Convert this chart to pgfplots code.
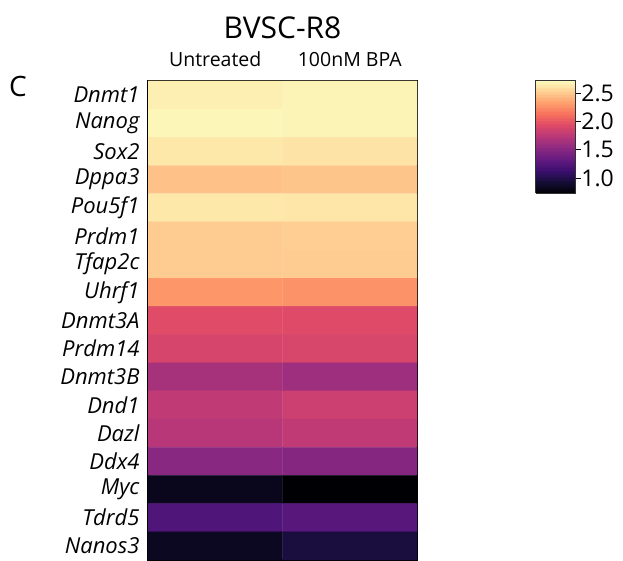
\documentclass[border=0pt]{standalone}
\usepackage{fontspec}
\setmainfont{Open Sans}
\usepackage{pgfplots}
\usepackage{pgfplotstable}
\pgfplotsset{compat=1.18}
\pgfplotsset{colormap={magma}{rgb255=(0,0,4) rgb255=(20,14,54) rgb255=(59,15,112) rgb255=(100,26,128) rgb255=(140,41,129) rgb255=(183,55,121) rgb255=(222,73,104) rgb255=(247,112,92) rgb255=(254,159,109) rgb255=(254,207,146) rgb255=(252,253,191)}}
\pgfplotstableread{
x y v
0 0 2.67
1 0 2.69
0 1 2.70
1 1 2.69
0 2 2.64
1 2 2.62
0 3 2.48
1 3 2.49
0 4 2.64
1 4 2.63
0 5 2.52
1 5 2.53
0 6 2.52
1 6 2.52
0 7 2.30
1 7 2.28
0 8 1.95
1 8 1.94
0 9 1.89
1 9 1.90
0 10 1.66
1 10 1.62
0 11 1.78
1 11 1.84
0 12 1.74
1 12 1.78
0 13 1.52
1 13 1.50
0 14 0.84
1 14 0.74
0 15 1.24
1 15 1.28
0 16 0.86
1 16 0.97
}\heat
\begin{document}
\begin{tikzpicture}[x=1pt,y=1pt]
\path[use as bounding box] (0,0) rectangle (623,561);
\begin{axis}[
  at={(148pt,1pt)}, anchor=south west,
  width=269pt, height=479pt, scale only axis,
  xmin=-0.5, xmax=1.5, ymin=-0.5, ymax=16.5,
  y dir=reverse,
  colormap name=magma,
  point meta min=0.74, point meta max=2.73,
  axis line style={line width=2pt, black},
  xtick={0,1}, xticklabels={Untreated, 100nM BPA},
  xticklabel pos=top,
  xticklabel style={font=\fontsize{19.5}{22}\selectfont, yshift=11pt},
  ytick={0,...,16},
  yticklabels={Dnmt1,Nanog,Sox2,Dppa3,Pou5f1,Prdm1,Tfap2c,Uhrf1,Dnmt3A,Prdm14,Dnmt3B,Dnd1,Dazl,Ddx4,Myc,Tdrd5,Nanos3},
  yticklabel style={font=\fontsize{22}{24}\selectfont\itshape, xshift=-5pt},
  major tick length=0pt,
  title={BVSC-R8},
  title style={font=\fontsize{30}{34}\selectfont, yshift=33pt},
  colorbar sampled,
  colorbar right,
  colorbar style={
    at={(1.442,1.002)}, anchor=north west,
    scale only axis, width=40pt, height=113pt,
    samples=80,
    xmin=0, xmax=1, enlargelimits=false,
    ytick={1,1.5,2,2.5},
    ytick pos=right, yticklabel pos=right,
    yticklabel style={font=\fontsize{23}{25}\selectfont, /pgf/number format/fixed, /pgf/number format/fixed zerofill, /pgf/number format/precision=1, /pgf/number format/assume math mode=true, xshift=-3pt},
    major tick length=5pt, tick align=outside,
    tick style={black, line width=0.8pt},
    axis line style={line width=1pt, black!80},
  },
]
\addplot[matrix plot*, mesh/cols=2, mesh/rows=17, point meta=explicit] table[x=x, y=y, meta=v] {\heat};
\end{axis}
\node[anchor=center, font=\fontsize{28}{32}\selectfont] at (18,474) {C};
\end{tikzpicture}
\end{document}
